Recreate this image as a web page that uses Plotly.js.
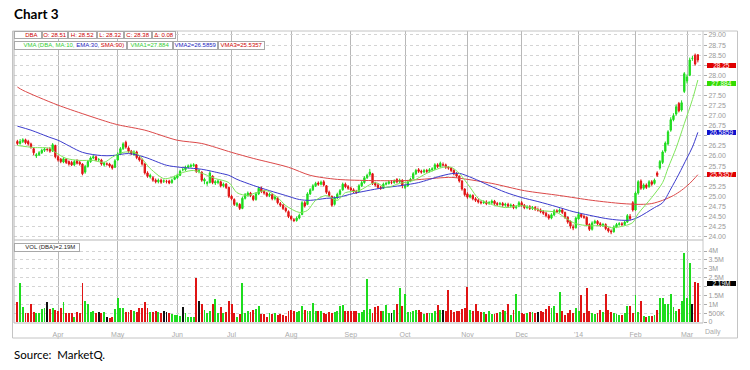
<!DOCTYPE html>
<html><head><meta charset="utf-8">
<script src="https://cdn.plot.ly/plotly-3.0.1.min.js"></script>
<style>html,body{margin:0;padding:0;background:#fff;}#chart{width:750px;height:370px;}</style>
</head><body><div id="chart"></div>
<script>
// ---- DATA (daily bars, index 0..251, mid-Mar 2013 .. early Mar 2014) ----
const monthLabels = ["Apr","May","Jun","Jul","Aug","Sep","Oct","Nov","Dec","'14","Feb","Mar"];
const monthStart  = [15,37,59,79,101,123,143,166,186,207,228,247];

// price axis ticks (labels hidden where the value boxes sit on top of them)
const priceTicks = [24,24.25,24.5,24.75,25,25.25,25.5,25.75,26,26.25,26.5,26.75,27,27.25,27.5,27.75,28,28.25,28.5,28.75,29];
const priceTickText = ['24.00','24.25','24.50','24.75','25.00','25.25','','25.75','26.00','26.25','','26.75','27.00','27.25','27.50','','28.00','','28.50','28.75','29.00'];
const volTicks = [0,0.5,1,1.5,2,2.5,3,3.5,4];
const volTickText = ['0','500K','1M','1.5M','','2.5M','3M','3.5M','4M'];

const opens = [
26.36,26.31,26.36,26.40,26.36,26.30,26.18,26.00,26.03,26.08,
26.14,26.16,26.18,26.12,26.26,25.98,25.92,25.85,25.92,25.86,
25.84,25.78,25.88,25.84,25.80,25.60,25.74,25.86,25.95,25.98,
25.91,25.90,25.78,25.80,25.80,25.76,25.72,25.90,26.05,26.18,
26.34,26.20,26.12,26.04,26.10,25.96,25.90,25.80,25.58,25.48,
25.46,25.40,25.36,25.40,25.38,25.37,25.38,25.34,25.42,25.46,
25.52,25.66,25.66,25.72,25.74,25.76,25.78,25.63,25.60,25.38,
25.32,25.34,25.50,25.33,25.34,25.36,25.26,25.30,25.22,25.00,
24.92,24.78,24.80,24.70,24.95,25.02,25.08,25.00,24.92,25.06,
25.20,25.12,25.08,25.02,25.04,24.94,24.96,24.82,24.78,24.70,
24.62,24.50,24.42,24.40,24.46,24.55,24.84,24.80,25.06,25.16,
25.26,25.33,25.30,25.36,25.26,25.10,25.00,24.80,24.96,25.05,
25.16,25.30,25.24,25.20,25.16,25.12,25.12,25.26,25.34,25.46,
25.54,25.56,25.32,25.28,25.22,25.20,25.30,25.32,25.34,25.34,
25.42,25.36,25.40,25.22,25.26,25.38,25.44,25.56,25.66,25.62,
25.60,25.64,25.62,25.66,25.68,25.78,25.74,25.78,25.78,25.72,
25.70,25.64,25.56,25.50,25.38,25.18,25.06,24.98,25.02,24.94,
24.90,24.86,24.84,24.86,24.82,24.84,24.88,24.82,24.80,24.82,
24.78,24.80,24.76,24.78,24.72,24.76,24.84,24.78,24.72,24.74,
24.70,24.72,24.66,24.66,24.62,24.58,24.52,24.46,24.54,24.64,
24.62,24.66,24.60,24.48,24.38,24.24,24.22,24.44,24.55,24.50,
24.48,24.30,24.18,24.34,24.38,24.32,24.28,24.30,24.20,24.14,
24.12,24.24,24.30,24.32,24.30,24.36,24.50,24.84,24.66,25.08,
25.38,25.20,25.28,25.24,25.36,25.32,25.58,25.70,25.84,26.12,
26.30,26.64,26.90,27.04,27.30,27.14,27.60,27.86,28.00,28.42,
28.50,28.51];
const highs = [
26.40,26.42,26.44,26.43,26.40,26.33,26.21,26.07,26.12,26.18,
26.21,26.20,26.22,26.32,26.28,26.02,25.95,25.97,25.95,25.89,
25.88,25.90,25.92,25.88,25.82,25.78,25.90,25.99,26.02,26.01,
25.95,25.93,25.86,25.84,25.83,25.79,25.92,26.09,26.22,26.34,
26.38,26.24,26.15,26.14,26.13,26.00,25.94,25.83,25.62,25.56,
25.50,25.44,25.44,25.44,25.42,25.41,25.41,25.44,25.51,25.56,
25.66,25.71,25.76,25.79,25.81,25.82,25.80,25.68,25.62,25.46,
25.38,25.62,25.52,25.40,25.42,25.39,25.34,25.33,25.24,25.04,
24.95,24.86,24.83,24.99,25.08,25.12,25.11,25.03,25.10,25.24,
25.24,25.16,25.11,25.09,25.07,25.02,24.99,24.86,24.81,24.73,
24.65,24.53,24.46,24.50,24.57,24.88,24.88,25.10,25.20,25.30,
25.36,25.37,25.39,25.40,25.28,25.14,25.02,25.00,25.09,25.18,
25.34,25.34,25.28,25.24,25.20,25.16,25.30,25.38,25.50,25.56,
25.68,25.58,25.36,25.32,25.26,25.34,25.36,25.40,25.40,25.42,
25.45,25.44,25.42,25.30,25.40,25.46,25.60,25.68,25.70,25.66,
25.68,25.68,25.70,25.72,25.82,25.82,25.86,25.84,25.81,25.75,
25.73,25.67,25.60,25.52,25.40,25.20,25.10,25.06,25.05,24.98,
24.94,24.90,24.90,24.90,24.88,24.92,24.91,24.86,24.86,24.86,
24.84,24.84,24.82,24.81,24.78,24.88,24.88,24.81,24.78,24.78,
24.76,24.76,24.72,24.70,24.66,24.62,24.56,24.58,24.68,24.68,
24.70,24.70,24.62,24.50,24.40,24.30,24.50,24.62,24.58,24.54,
24.50,24.33,24.38,24.42,24.41,24.36,24.34,24.33,24.23,24.18,
24.28,24.34,24.36,24.36,24.40,24.56,24.56,24.88,25.12,25.40,
25.42,25.32,25.32,25.40,25.40,25.44,25.62,25.90,26.14,26.36,
26.64,26.96,27.06,27.28,27.34,27.38,28.08,28.02,28.44,28.48,
28.54,28.52];
const lows = [
26.27,26.28,26.32,26.29,26.26,26.18,26.02,25.95,26.00,26.05,
26.10,26.11,26.08,26.10,25.94,25.86,25.82,25.82,25.80,25.76,
25.75,25.75,25.79,25.76,25.52,25.56,25.71,25.83,25.92,25.87,
25.87,25.76,25.74,25.76,25.71,25.66,25.70,25.88,26.02,26.15,
26.18,26.08,26.02,26.00,25.92,25.86,25.76,25.54,25.46,25.44,
25.36,25.32,25.32,25.31,25.33,25.32,25.30,25.31,25.40,25.43,
25.50,25.62,25.63,25.69,25.71,25.73,25.58,25.57,25.36,25.30,
25.26,25.32,25.30,25.28,25.30,25.22,25.22,25.18,24.96,24.90,
24.76,24.74,24.66,24.68,24.92,24.99,24.98,24.88,24.89,25.03,
25.08,25.04,24.98,24.98,24.90,24.90,24.80,24.74,24.66,24.60,
24.46,24.40,24.36,24.37,24.43,24.53,24.72,24.78,25.03,25.13,
25.23,25.26,25.27,25.24,25.06,24.98,24.74,24.77,24.93,25.02,
25.14,25.20,25.16,25.12,25.08,25.06,25.10,25.23,25.31,25.43,
25.50,25.28,25.24,25.18,25.16,25.18,25.27,25.29,25.30,25.31,
25.32,25.33,25.20,25.18,25.23,25.35,25.42,25.53,25.58,25.56,
25.57,25.58,25.59,25.62,25.65,25.70,25.71,25.74,25.68,25.66,
25.60,25.52,25.46,25.34,25.14,25.00,24.94,24.95,24.90,24.86,
24.82,24.80,24.81,24.78,24.79,24.81,24.78,24.76,24.77,24.74,
24.74,24.72,24.72,24.68,24.68,24.73,24.74,24.68,24.68,24.66,
24.66,24.64,24.62,24.58,24.54,24.48,24.42,24.43,24.51,24.58,
24.59,24.56,24.44,24.32,24.20,24.16,24.20,24.42,24.46,24.44,
24.26,24.14,24.15,24.31,24.28,24.24,24.24,24.16,24.10,24.06,
24.10,24.21,24.27,24.26,24.27,24.34,24.40,24.62,24.64,25.04,
25.16,25.16,25.18,25.21,25.26,25.29,25.48,25.66,25.80,26.08,
26.26,26.60,26.86,27.00,27.08,27.10,27.56,27.80,27.98,28.36,
28.24,28.32];
const closes = [
26.31,26.36,26.40,26.33,26.30,26.22,26.08,26.03,26.08,26.14,
26.17,26.16,26.12,26.28,25.98,25.90,25.86,25.93,25.84,25.80,
25.78,25.86,25.82,25.80,25.56,25.74,25.86,25.95,25.98,25.90,
25.91,25.80,25.82,25.80,25.75,25.70,25.88,26.05,26.18,26.30,
26.22,26.12,26.06,26.10,25.96,25.90,25.80,25.58,25.50,25.52,
25.40,25.36,25.40,25.35,25.38,25.37,25.33,25.40,25.47,25.52,
25.62,25.66,25.72,25.75,25.77,25.78,25.62,25.63,25.40,25.42,
25.34,25.58,25.34,25.36,25.38,25.26,25.30,25.22,25.00,24.94,
24.80,24.82,24.70,24.95,25.04,25.08,25.02,24.92,25.06,25.20,
25.12,25.08,25.02,25.05,24.94,24.98,24.84,24.78,24.70,24.64,
24.50,24.44,24.40,24.46,24.53,24.84,24.76,25.06,25.16,25.26,
25.32,25.30,25.35,25.28,25.10,25.02,24.78,24.96,25.05,25.14,
25.30,25.24,25.20,25.16,25.12,25.10,25.26,25.34,25.46,25.52,
25.60,25.32,25.28,25.22,25.20,25.30,25.32,25.36,25.34,25.38,
25.36,25.40,25.28,25.26,25.36,25.42,25.56,25.64,25.62,25.60,
25.64,25.62,25.66,25.68,25.78,25.74,25.82,25.78,25.72,25.70,
25.64,25.56,25.50,25.38,25.18,25.04,24.98,25.02,24.94,24.90,
24.86,24.84,24.86,24.82,24.84,24.88,24.82,24.80,24.82,24.78,
24.80,24.76,24.78,24.72,24.74,24.84,24.78,24.72,24.74,24.70,
24.72,24.68,24.66,24.62,24.58,24.52,24.46,24.54,24.64,24.62,
24.66,24.60,24.48,24.36,24.26,24.22,24.46,24.55,24.50,24.48,
24.30,24.18,24.34,24.38,24.32,24.28,24.30,24.20,24.14,24.12,
24.24,24.30,24.32,24.30,24.36,24.52,24.45,24.66,25.08,25.36,
25.20,25.28,25.22,25.36,25.30,25.40,25.52,25.86,26.10,26.32,
26.60,26.90,27.00,27.22,27.12,27.32,28.04,27.96,28.38,28.42,
28.28,28.38];
// volume in millions of shares
const volumes = [
1.13,2.20,0.85,0.50,0.50,1.00,0.55,0.50,0.50,0.75,
0.80,1.10,0.75,0.80,0.65,0.60,0.80,1.15,0.50,0.50,
0.50,0.30,0.55,0.50,2.20,1.20,1.00,0.55,0.60,0.50,
0.55,0.50,0.55,0.30,0.25,0.30,0.75,1.35,0.80,0.80,
0.55,0.55,0.65,0.60,0.55,0.80,0.80,1.10,0.80,0.55,
0.55,0.60,0.55,0.50,0.60,0.55,0.50,0.45,0.40,0.40,
0.35,0.85,0.50,0.30,0.30,0.30,2.50,1.20,1.00,0.65,
0.50,0.60,1.00,1.30,0.50,0.85,0.50,0.55,1.20,1.00,
0.50,0.30,0.45,2.20,0.50,0.60,0.56,0.66,0.75,0.90,
0.47,0.47,0.30,0.50,0.47,0.50,0.40,0.45,0.40,0.35,
0.60,0.70,0.60,0.55,0.60,0.90,0.66,0.60,0.60,1.06,
0.60,0.60,0.60,0.50,0.45,0.55,0.50,0.55,0.60,0.90,
0.94,0.60,0.60,0.60,0.60,0.60,0.50,0.55,0.66,2.40,
0.75,0.50,0.85,0.90,0.60,0.60,0.95,0.50,0.50,0.70,
1.00,1.90,0.90,1.60,0.55,0.55,0.60,0.65,0.70,0.55,
0.45,0.50,0.50,0.50,0.60,0.94,0.65,0.65,0.60,1.80,
0.70,0.55,0.60,0.60,0.75,0.80,2.00,0.70,0.60,1.00,
0.60,0.55,0.55,0.45,0.60,0.45,0.45,0.50,0.55,0.70,
0.60,1.00,0.40,0.65,1.60,0.60,0.50,0.45,0.50,0.55,
0.55,0.50,0.55,0.60,0.55,0.75,0.90,0.80,0.90,0.50,
1.70,0.60,0.40,0.50,0.70,0.50,0.80,0.60,1.50,0.50,
1.90,0.60,0.50,0.45,0.50,0.70,0.55,1.60,0.70,0.55,
0.50,0.45,0.40,0.40,0.50,0.90,0.90,0.50,1.50,0.55,
1.20,0.35,0.30,0.35,0.35,0.40,0.70,1.35,1.35,1.00,
1.00,1.60,0.85,0.60,0.75,1.20,3.90,1.35,3.30,1.00,
2.25,2.19];

// moving averages (bar index -> value)
const ma10Idx = [0,6,12,14,18,23,28,32,35,39,43,45,49,54,57,61,65,70,73,78,81,85,88,92,96,99,104,107,110,114,118,121,126,132,136,141,146,151,157,160,163,167,170,174,180,186,193,199,202,206,211,217,219,224,227,229,234,238,240,243,246,249,251];
const ma10Val = [26.26,26.21,26.19,26.09,25.94,25.89,25.89,25.84,25.97,26.09,26.09,26.01,25.69,25.44,25.47,25.59,25.64,25.52,25.44,25.34,25.09,25.02,25.09,25.14,24.97,24.77,24.60,24.65,24.90,25.02,24.90,25.09,25.14,25.34,25.22,25.32,25.39,25.57,25.72,25.72,25.57,25.22,24.95,24.82,24.72,24.77,24.65,24.60,24.47,24.32,24.27,24.27,24.22,24.27,24.35,24.57,24.97,25.34,25.70,26.20,26.80,27.40,27.884];
const ema30Idx = [0,5,12,15,24,31,35,41,47,55,60,68,75,78,81,87,93,99,104,108,114,118,124,134,142,148,156,160,163,168,174,180,186,192,199,205,211,217,222,226,229,235,238,241,244,247,249,251];
const ema30Val = [26.74,26.64,26.46,26.39,26.09,26.01,26.01,26.06,25.97,25.77,25.72,25.67,25.57,25.52,25.42,25.27,25.14,25.02,24.92,24.90,24.95,24.97,25.07,25.20,25.27,25.34,25.50,25.56,25.57,25.45,25.27,25.10,24.97,24.87,24.74,24.62,24.53,24.45,24.41,24.41,24.48,24.72,24.84,25.18,25.55,25.95,26.22,26.5859];
const sma90Idx = [0,2,15,35,38,47,59,68,79,87,100,108,118,131,143,149,160,164,175,187,200,212,223,230,234,238,242,245,248,251];
const sma90Val = [27.71,27.63,27.26,26.81,26.76,26.64,26.39,26.31,26.09,25.94,25.72,25.52,25.42,25.39,25.39,25.42,25.47,25.44,25.32,25.14,25.02,24.90,24.82,24.80,24.82,24.90,25.02,25.15,25.32,25.5357];

// ---- DRAWING ----
const idx = closes.map((_, i) => i);
const GREEN = '#1edc1e', RED = '#e01414', BLACK = '#111';
const volColors = closes.map((c, i) => c > opens[i] ? GREEN : (c < opens[i] ? RED : BLACK));

const L = 14, R = 703, T = 31, B = 322;
const px = x => (x - L) / (R - L);
const py = y => (B - y) / (B - T);
const FONT = 'Liberation Sans, Arial, sans-serif';

const traces = [
  {type:'candlestick', x:idx, open:opens, high:highs, low:lows, close:closes,
   xaxis:'x', yaxis:'y', whiskerwidth:0, hoverinfo:'skip',
   increasing:{line:{color:GREEN,width:1}, fillcolor:GREEN},
   decreasing:{line:{color:RED,width:1}, fillcolor:RED}},
  {type:'scatter', mode:'lines', x:sma90Idx, y:sma90Val, xaxis:'x', yaxis:'y',
   line:{color:'#dc4848', width:1, shape:'spline', smoothing:0.8}, hoverinfo:'skip'},
  {type:'scatter', mode:'lines', x:ema30Idx, y:ema30Val, xaxis:'x', yaxis:'y',
   line:{color:'#3a3acc', width:1, shape:'spline', smoothing:0.8}, hoverinfo:'skip'},
  {type:'scatter', mode:'lines', x:ma10Idx, y:ma10Val, xaxis:'x', yaxis:'y',
   line:{color:'#7ee65a', width:1, shape:'spline', smoothing:0.8}, hoverinfo:'skip'},
  {type:'bar', x:idx, y:volumes, xaxis:'x2', yaxis:'y2', width:0.7,
   marker:{color:volColors, line:{width:0}}, hoverinfo:'skip'}
];

const xr = [-1.25, 252.9];

const ann = [];
function box(x0, x1, y0, y1, text, color, bg, border, size, align) {
  ann.push({xref:'paper', yref:'paper', x:px((x0+x1)/2), y:py((y0+y1)/2),
    xanchor:'center', yanchor:'middle', text:text, showarrow:false,
    width:(x1-x0)-2, height:(y1-y0)-2, borderpad:0, align:align||'center',
    bgcolor:bg, bordercolor:border, borderwidth:border?1:0,
    font:{family:FONT, size:size||6, color:color}});
}
// title & source
ann.push({xref:'paper', yref:'paper', x:px(12), y:py(14.5), xanchor:'left', yanchor:'middle', showarrow:false,
  text:'<b>Chart 3</b>', font:{family:'Lato, Carlito, sans-serif', size:13.5, color:'#000'}});
ann.push({xref:'paper', yref:'paper', x:px(12), y:py(354), xanchor:'left', yanchor:'middle', showarrow:false,
  text:'Source:\u00a0 MarketQ.', font:{family:'Lato, Carlito, sans-serif', size:11.5, color:'#000'}});
// legend row 1
box(14, 42, 31.5, 39.5, '\u00a0\u00a0\u00a0\u00a0DBA', '#cc0000', '#fff', '#a8a8a8');
box(42, 68, 31.5, 39.5, 'O: 28.51', '#cc0000', '#fff', '#a8a8a8');
box(68, 97, 31.5, 39.5, 'H: 28.52', '#cc0000', '#fff', '#a8a8a8');
box(97, 124, 31.5, 39.5, 'L: 28.32', '#cc0000', '#fff', '#a8a8a8');
box(124, 152, 31.5, 39.5, 'C: 28.38', '#cc0000', '#fff', '#a8a8a8');
box(152, 176, 31.5, 39.5, '\u0394: 0.08', '#cc0000', '#fff', '#a8a8a8');
// legend row 2
box(14, 127, 41.5, 50, '\u00a0\u00a0\u00a0\u00a0<span style="color:#33cc33">VMA (DBA, MA:10,</span> <span style="color:#2222bb">EMA:30,</span> <span style="color:#cc0000">SMA:90)</span>', '#33cc33', '#fff', '#a8a8a8');
box(127, 173, 41.5, 50, 'VMA1=27.884', '#33cc33', '#fff', '#a8a8a8');
box(173, 218, 41.5, 50, 'VMA2=26.5859', '#2222bb', '#fff', '#a8a8a8');
box(218, 265, 41.5, 50, 'VMA3=25.5357', '#cc0000', '#fff', '#a8a8a8');
// volume legend
box(14, 80, 243, 251.5, '\u00a0\u00a0\u00a0\u00a0VOL (DBA)=2.19M', '#222', '#fff', '#a8a8a8');
// right value boxes
box(706, 737, 61.5, 68.5, '28.25', '#fff', '#e00000', null, 6.5);
box(706, 737, 80, 87, '27.884', '#fff', '#33dd00', null, 6.5);
box(706, 737, 128.5, 135.5, '26.5859', '#fff', '#1010cc', null, 6.5);
box(706, 737, 171, 178, '25.5357', '#fff', '#e00000', null, 6.5);
box(706, 737, 280, 287, '2.19M', '#fff', '#000', null, 6.5);
// "Daily"
ann.push({xref:'paper', yref:'paper', x:px(713), y:py(332), xanchor:'center', yanchor:'middle', showarrow:false,
  text:'Daily', font:{family:FONT, size:7, color:'#aaa'}});

// small legend icons (mountain glyph)
function icon(x, y) {
  const p = [[x, y+2.5],[x+2.5, y-1],[x+4, y+0.5],[x+6.5, y-2]];
  return {type:'path', xref:'paper', yref:'paper',
    path: 'M ' + p.map(q => px(q[0]) + ',' + py(q[1])).join(' L '),
    line:{color:'#1a2a80', width:1.4}};
}
const shapes = [
  {type:'rect', xref:'paper', yref:'paper', x0:px(12.5), x1:px(737.5), y0:py(338), y1:py(31), line:{color:'#c4c4c4', width:1}},
  {type:'line', xref:'paper', yref:'paper', x0:px(14), x1:px(14), y0:py(31), y1:py(323), line:{color:'#b0b0b0', width:1}},
  {type:'line', xref:'paper', yref:'paper', x0:px(703), x1:px(703), y0:py(31), y1:py(323), line:{color:'#c8c8c8', width:1}},
  {type:'line', xref:'paper', yref:'paper', x0:px(14), x1:px(703), y0:py(240), y1:py(240), line:{color:'#b8b8b8', width:1}},
  {type:'line', xref:'paper', yref:'paper', x0:px(14), x1:px(703), y0:py(323), y1:py(323), line:{color:'#b8b8b8', width:1}},
  icon(16, 35.5), icon(16, 46), icon(16, 247)
];

const gridV = '#b8b8b8';
const layout = {
  width:750, height:370, margin:{l:L, r:750-R, t:T, b:370-B, pad:0},
  paper_bgcolor:'#fff', plot_bgcolor:'#fff', showlegend:false, dragmode:false,
  font:{family:FONT},
  xaxis:{domain:[0,1], anchor:'y', range:xr, tickvals:monthStart, showticklabels:false, ticks:'',
    showgrid:true, gridcolor:gridV, gridwidth:1, zeroline:false, showline:false, rangeslider:{visible:false}, fixedrange:true},
  yaxis:{domain:[0.282,1], anchor:'x', range:[23.918,29.099], side:'right', tickvals:priceTicks, ticktext:priceTickText,
    ticks:'outside', ticklen:3, tickcolor:'#aaa', tickfont:{size:7, color:'#999', family:FONT},
    showgrid:true, gridcolor:'#d4d4d4', griddash:'dot', zeroline:false, showline:false, fixedrange:true},
  xaxis2:{domain:[0,1], anchor:'y2', range:xr, tickvals:monthStart, ticktext:monthLabels,
    ticks:'outside', ticklen:6, tickcolor:'rgba(0,0,0,0)',
    tickfont:{size:7, color:'#aaa', family:FONT}, showgrid:true, gridcolor:gridV, gridwidth:1,
    zeroline:false, showline:false, fixedrange:true},
  yaxis2:{domain:[0,0.279], anchor:'x2', range:[0,4.575], side:'right', tickvals:volTicks, ticktext:volTickText,
    ticks:'outside', ticklen:3, tickcolor:'#aaa', tickfont:{size:7, color:'#999', family:FONT},
    showgrid:true, gridcolor:'#d4d4d4', griddash:'dot', zeroline:false, showline:false, fixedrange:true},
  bargap:0, annotations:ann, shapes:shapes
};
Plotly.newPlot('chart', traces, layout, {staticPlot:true, displayModeBar:false});
</script></body></html>
